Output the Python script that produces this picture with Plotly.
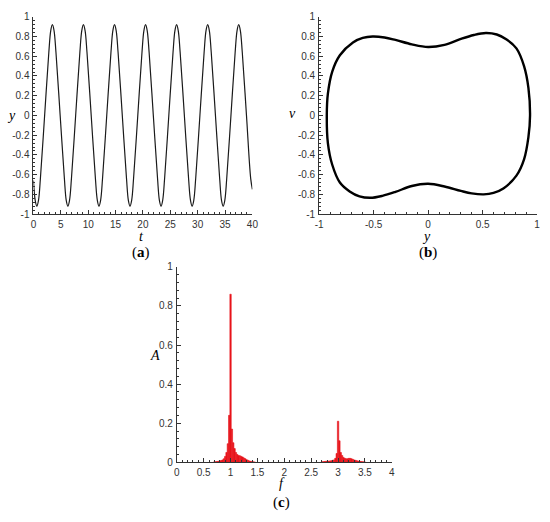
import plotly.graph_objects as go

# ---------------- data ----------------
# (a) time history y(t)
t_vals = [0.00, 0.32, 0.62, 0.92, 1.27, 2.04, 2.81, 3.16, 3.46, 3.76, 4.11, 4.88, 5.65, 5.99,
          6.29, 6.59, 6.94, 7.71, 8.48, 8.83, 9.13, 9.43, 9.78, 10.55, 11.32, 11.67,
          11.97, 12.27, 12.62, 13.39, 14.16, 14.51, 14.81, 15.11, 15.46, 16.23, 17.00, 17.34,
          17.64, 17.94, 18.29, 19.06, 19.83, 20.18, 20.48, 20.78, 21.13, 21.90, 22.67, 23.01,
          23.31, 23.61, 23.96, 24.73, 25.50, 25.85, 26.15, 26.45, 26.80, 27.57, 28.34, 28.69,
          28.99, 29.29, 29.64, 30.41, 31.18, 31.53, 31.83, 32.13, 32.48, 33.25, 34.02, 34.36,
          34.66, 34.96, 35.31, 36.08, 36.85, 37.20, 37.50, 37.80, 38.15, 38.92, 39.69, 40.00]
y_vals = [-0.66, -0.86, -0.92, -0.86, -0.64, 0.0, 0.64, 0.86, 0.92, 0.86, 0.64, 0.0, -0.64, -0.86,
          -0.92, -0.86, -0.64, 0.0, 0.64, 0.86, 0.92, 0.86, 0.64, 0.0, -0.64, -0.86,
          -0.92, -0.86, -0.64, 0.0, 0.64, 0.86, 0.92, 0.86, 0.64, 0.0, -0.64, -0.86,
          -0.92, -0.86, -0.64, 0.0, 0.64, 0.86, 0.92, 0.86, 0.64, 0.0, -0.64, -0.86,
          -0.92, -0.86, -0.64, 0.0, 0.64, 0.86, 0.92, 0.86, 0.64, 0.0, -0.64, -0.86,
          -0.92, -0.86, -0.64, 0.0, 0.64, 0.86, 0.92, 0.86, 0.64, 0.0, -0.64, -0.86,
          -0.92, -0.86, -0.64, 0.0, 0.64, 0.86, 0.92, 0.86, 0.64, 0.0, -0.64, -0.75]

# (b) phase portrait (y, v), closed loop starting at the top centre
phase_y = [0.0, 0.15, 0.30, 0.42, 0.53, 0.63, 0.72, 0.81, 0.88, 0.92, 0.935,
           0.92, 0.88, 0.81, 0.69, 0.60, 0.51, 0.40, 0.30, 0.15, 0.0,
           -0.15, -0.30, -0.42, -0.53, -0.63, -0.72, -0.81, -0.88, -0.92, -0.93,
           -0.92, -0.88, -0.81, -0.69, -0.60, -0.51, -0.40, -0.30, -0.15, 0.0]
phase_v = [0.693, 0.715, 0.775, 0.815, 0.835, 0.82, 0.77, 0.68, 0.50, 0.28, 0.0,
           -0.22, -0.445, -0.61, -0.74, -0.785, -0.80, -0.79, -0.765, -0.72, -0.693,
           -0.715, -0.775, -0.815, -0.835, -0.82, -0.77, -0.68, -0.50, -0.28, 0.0,
           0.22, 0.445, 0.61, 0.74, 0.785, 0.80, 0.79, 0.765, 0.72, 0.693]

# (c) amplitude spectrum A(f)
freq = [0.700, 0.725, 0.750, 0.775, 0.800, 0.825, 0.850, 0.875, 0.900, 0.925, 0.950, 0.975,
        1.000, 1.025, 1.050, 1.075, 1.100, 1.125, 1.150, 1.175, 1.200, 1.225, 1.250, 1.275,
        1.300, 1.325, 1.350, 1.375, 1.400, 1.425, 1.450,
        2.700, 2.725, 2.750, 2.775, 2.800, 2.825, 2.850, 2.875, 2.900, 2.925, 2.950, 2.975,
        3.000, 3.025, 3.050, 3.075, 3.100, 3.125, 3.150, 3.175, 3.200, 3.225, 3.250, 3.275,
        3.300, 3.325, 3.350, 3.375, 3.400, 3.425, 3.450, 3.475, 3.500]
amp = [0.002, 0.003, 0.004, 0.005, 0.007, 0.009, 0.012, 0.018, 0.030, 0.050, 0.095, 0.240,
       0.860, 0.170, 0.100, 0.070, 0.050, 0.040, 0.035, 0.033, 0.030, 0.027, 0.022, 0.018,
       0.013, 0.010, 0.007, 0.005, 0.003, 0.002, 0.001,
       0.002, 0.003, 0.004, 0.005, 0.006, 0.006, 0.007, 0.008, 0.010, 0.012, 0.020, 0.045,
       0.210, 0.110, 0.050, 0.035, 0.025, 0.020, 0.018, 0.018, 0.020, 0.020, 0.018, 0.015,
       0.012, 0.010, 0.008, 0.006, 0.005, 0.004, 0.003, 0.002, 0.001]

# tick labels
ticks_pm1 = [-1, -0.8, -0.6, -0.4, -0.2, 0, 0.2, 0.4, 0.6, 0.8, 1]
ticks_pm1_text = ["-1", "-0.8", "-0.6", "-0.4", "-0.2", "0", "0.2", "0.4", "0.6", "0.8", "1"]
ticks_t = [0, 5, 10, 15, 20, 25, 30, 35, 40]
ticks_t_text = ["0", "5", "10", "15", "20", "25", "30", "35", "40"]
ticks_yb = [-1, -0.5, 0, 0.5, 1]
ticks_yb_text = ["-1", "-0.5", "0", "0.5", "1"]
ticks_f = [0, 0.5, 1, 1.5, 2, 2.5, 3, 3.5, 4]
ticks_f_text = ["0", "0.5", "1", "1.5", "2", "2.5", "3", "3.5", "4"]
ticks_A = [0, 0.2, 0.4, 0.6, 0.8, 1]
ticks_A_text = ["0", "0.2", "0.4", "0.6", "0.8", "1"]

# ---------------- figure ----------------
W, H = 550, 522
fig = go.Figure()

fig.add_trace(go.Scatter(x=t_vals, y=y_vals, mode="lines",
                         line=dict(color="#1a1a1a", width=1.2, shape="spline", smoothing=1.0),
                         xaxis="x", yaxis="y", showlegend=False))
fig.add_trace(go.Scatter(x=phase_y, y=phase_v, mode="lines",
                         line=dict(color="black", width=2.4, shape="spline", smoothing=1.0),
                         xaxis="x2", yaxis="y2", showlegend=False))
fig.add_trace(go.Bar(x=freq, y=amp, width=0.025,
                     marker=dict(color="#e8141b", line=dict(width=0.6, color="#e8141b")),
                     xaxis="x3", yaxis="y3", showlegend=False))


def px_x(p):
    return p / W


def px_y(p):
    return 1 - p / H


tickfont = dict(family="Liberation Sans, Arial, sans-serif", size=10, color="#333333")


def axis(domain, rng, tv, tt, minor_dt, anchor):
    return dict(domain=domain, range=rng, tickmode="array", tickvals=tv, ticktext=tt,
                ticks="inside", ticklen=4, tickwidth=1, tickcolor="#333333",
                minor=dict(dtick=minor_dt, tick0=rng[0], ticks="inside", ticklen=2,
                           tickwidth=1, tickcolor="#333333", showgrid=False),
                showline=True, linecolor="#333333", linewidth=1, mirror=False,
                showgrid=False, zeroline=False, tickfont=tickfont, anchor=anchor,
                ticklabelstandoff=1, fixedrange=True)


fig.update_layout(
    width=W, height=H, margin=dict(l=0, r=0, t=0, b=0),
    paper_bgcolor="white", plot_bgcolor="white", bargap=0,
    xaxis=axis([px_x(30), px_x(253)], [0, 40], ticks_t, ticks_t_text, 1, "y"),
    yaxis=axis([px_y(213), px_y(11)], [-1, 1], ticks_pm1, ticks_pm1_text, 0.04, "x"),
    xaxis2=axis([px_x(321), px_x(543)], [-1, 1], ticks_yb, ticks_yb_text, 0.1, "y2"),
    yaxis2=axis([px_y(213), px_y(11)], [-1, 1], ticks_pm1, ticks_pm1_text, 0.04, "x2"),
    xaxis3=axis([px_x(176), px_x(395)], [0, 4], ticks_f, ticks_f_text, 0.1, "y3"),
    yaxis3=axis([px_y(467), px_y(267)], [0, 1], ticks_A, ticks_A_text, 0.04, "x3"),
)

title_font = dict(family="Liberation Serif, Times New Roman, serif", size=14, color="black")
label_font = dict(family="Liberation Serif, Times New Roman, serif", size=15, color="black")

annots = [
    ("<i>y</i>", 8, 112, title_font),
    ("<i>t</i>", 140, 236, title_font),
    ("<i>v</i>", 294, 110, title_font),
    ("<i>y</i>", 430, 236, title_font),
    ("<i>A</i>", 154, 358, title_font),
    ("<i>f</i>", 283, 489, title_font),
    ("(<b>a</b>)", 140, 252, label_font),
    ("(<b>b</b>)", 432, 252, label_font),
    ("(<b>c</b>)", 283, 508, label_font),
]
for text, x, y, f in annots:
    fig.add_annotation(text=text, x=px_x(x), y=px_y(y), xref="paper", yref="paper",
                       showarrow=False, font=f, xanchor="center", yanchor="middle", borderpad=0)

fig.write_html("out.html", config={"displayModeBar": False, "staticPlot": True},
               post_script="document.body.style.margin='0';document.body.style.padding='0';")
